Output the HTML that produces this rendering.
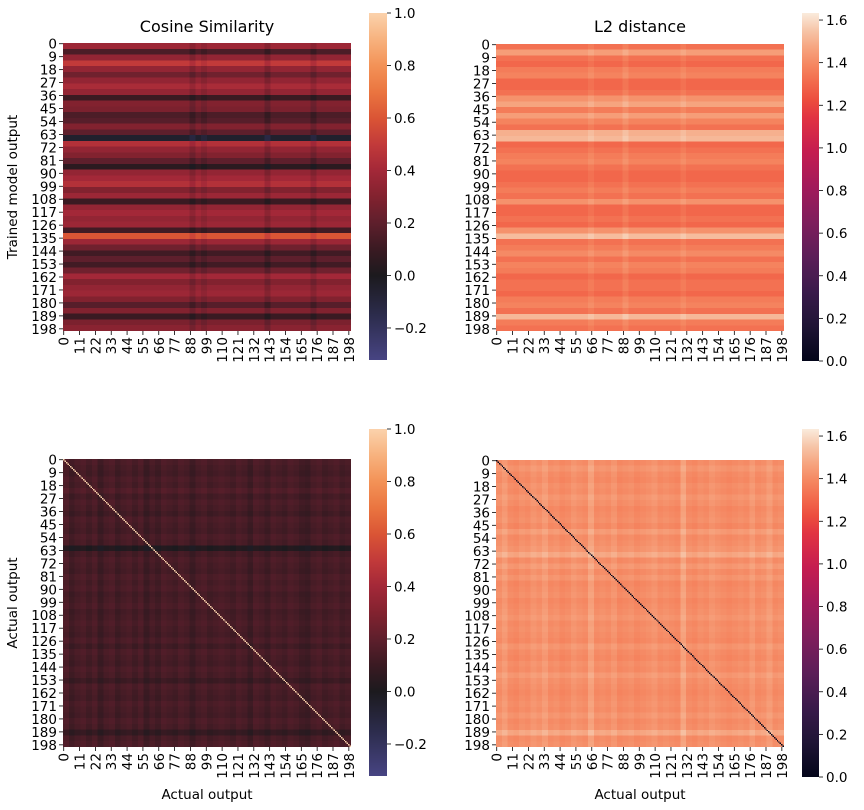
<!DOCTYPE html>
<html><head><meta charset="utf-8">
<style>
body{margin:0;background:#fff;width:864px;height:810px;overflow:hidden;font-family:"DejaVu Sans","Liberation Sans",sans-serif}
canvas{position:absolute;image-rendering:pixelated}
svg{position:absolute;left:0;top:0}
</style></head><body>
<canvas id="hm1" style="left:63px;top:43px;width:288px;height:288px" width="200" height="200"></canvas>
<canvas id="hm2" style="left:496px;top:44px;width:288px;height:287px" width="200" height="200"></canvas>
<canvas id="hm3" style="left:63px;top:459px;width:288px;height:288px" width="200" height="200"></canvas>
<canvas id="hm4" style="left:496px;top:460px;width:288px;height:287px" width="200" height="200"></canvas>
<canvas id="cb1" style="left:369px;top:13px;width:18px;height:347px" width="1" height="347"></canvas>
<canvas id="cb2" style="left:802px;top:13px;width:17px;height:348px" width="1" height="348"></canvas>
<canvas id="cb3" style="left:369px;top:429px;width:18px;height:347px" width="1" height="347"></canvas>
<canvas id="cb4" style="left:802px;top:429px;width:17px;height:348px" width="1" height="348"></canvas>
<svg id="svg" width="864" height="810"></svg>
<script>
// ---- data (4 rows/cols per entry, 50 entries) ----
const cosRowsTop=[0.38,0.15,0.35,0.5,0.35,0.25,0.35,0.42,0.35,0.1,0.3,0.28,0.15,0.18,0.3,0.2,-0.05,0.45,0.35,0.3,0.2,0.05,0.35,0.4,0.45,0.3,0.38,0.1,0.35,0.4,0.35,0.38,0.12,0.6,0.38,0.25,0.12,0.2,0.12,0.25,0.4,0.3,0.35,0.38,0.3,0.18,0.3,0.1,0.28,0.32];
const cosColsTop=[0,0,0,0,0,0,0,0,0,0,0,0,0,0,0,0,0,0,0,0,0,0,-0.06,0,-0.04,0,0,0,0,0,0,0,0,0,0,-0.07,0,0,0,0,0,0,0,-0.06,0,0,0,0,0,0];
const l2RowsTop=[1.33,1.45,1.33,1.3,1.36,1.38,1.3,1.3,1.33,1.42,1.47,1.36,1.45,1.38,1.33,1.5,1.52,1.3,1.33,1.36,1.38,1.33,1.3,1.3,1.33,1.36,1.33,1.42,1.3,1.3,1.33,1.3,1.42,1.53,1.33,1.36,1.4,1.33,1.38,1.36,1.3,1.33,1.33,1.3,1.36,1.38,1.33,1.52,1.36,1.33];
const l2ColsTop=[0,0,0,0,0,0,0,0,0,0,0,0,0,0,0,0,0.03,0,0,0,0,0,0.04,0,0,0,0,0,0,0,0,0,0.03,0,0,0,0,0,0,0,0,0,0,0,0,0,0,0,0,0];
const cosRowsBot=[0.15,0.12,0.1,0.15,0.12,0.18,0.1,0.15,0.12,0.08,0.15,0.12,0.1,0.15,0.12,-0.12,0.1,0.15,0.12,0.1,0.15,0.12,0.15,0.1,0.12,0.15,0.1,0.12,0.15,0.12,0.1,0.15,0.08,0.15,0.12,0.1,0.15,0.12,0.05,0.15,0.12,0.1,0.15,0.12,0.1,0.15,0.12,0.0,0.12,0.15];
const cosColsBot=[0.18,0.1,0.15,0.18,0.12,0.18,0.08,0.15,0.18,0.1,0.15,0.18,0.12,0.18,0.08,0.15,0.1,0.18,0.15,0.12,0.18,0.15,0.08,0.15,0.18,0.12,0.15,0.18,0.15,0.12,0.18,0.15,0.08,0.18,0.15,0.1,0.18,0.15,0.12,0.18,0.15,0.1,0.08,0.15,0.18,0.12,0.15,0.18,0.12,0.15];
const l2RowsBot=[1.4,1.45,1.4,1.38,1.42,1.4,1.45,1.42,1.38,1.4,1.42,1.38,1.48,1.4,1.42,1.45,1.55,1.4,1.47,1.4,1.45,1.38,1.4,1.42,1.38,1.4,1.42,1.45,1.4,1.42,1.4,1.38,1.45,1.4,1.38,1.42,1.4,1.47,1.42,1.4,1.38,1.4,1.42,1.4,1.45,1.4,1.42,1.55,1.4,1.42];
const l2ColsBot=[1.42,1.48,1.4,1.38,1.42,1.4,1.45,1.42,1.48,1.4,1.42,1.38,1.4,1.45,1.42,1.4,1.52,1.4,1.42,1.4,1.45,1.38,1.4,1.42,1.38,1.4,1.42,1.45,1.4,1.42,1.4,1.38,1.53,1.4,1.38,1.42,1.4,1.45,1.42,1.4,1.38,1.4,1.42,1.4,1.47,1.4,1.42,1.48,1.4,1.42];
const yTicks=[0,9,18,27,36,45,54,63,72,81,90,99,108,117,126,135,144,153,162,171,180,189,198];
const xTicks=[0,11,22,33,44,55,66,77,88,99,110,121,132,143,154,165,176,187,198];
const cosCbTicks=[-0.2,0.0,0.2,0.4,0.6,0.8,1.0];
const l2CbTicks=[0.0,0.2,0.4,0.6,0.8,1.0,1.2,1.4,1.6];

const ice=[[-0.32,'#474482'],[-0.15,'#2c2c4c'],[0,'#1c1a1e'],[0.1,'#3a1a22'],[0.2,'#5e1f2c'],[0.3,'#82222f'],[0.4,'#a32838'],[0.5,'#c23a3a'],[0.6,'#da5535'],[0.7,'#ea7540'],[0.8,'#f39257'],[0.9,'#f7b27e'],[1.0,'#fbd2ac']];
const rocketStops=[[0,'#03051a'],[0.1,'#1f1435'],[0.2,'#3a1a4b'],[0.3,'#5c1e58'],[0.4,'#7f1e5c'],[0.5,'#a11a5b'],[0.6,'#c41c50'],[0.7,'#e13342'],[0.75,'#ec4d3e'],[0.8,'#f2694c'],[0.85,'#f58660'],[0.9,'#f6a47f'],[0.95,'#f6c5a8'],[1.0,'#faebdd']];
const L2MAX=1.633;
const rocket=rocketStops.map(s=>[s[0]*L2MAX,s[1]]);
function hex(h){return [1,3,5].map(i=>parseInt(h.substr(i,2),16));}
function cmap(st,v){if(v<=st[0][0])return hex(st[0][1]);for(let i=1;i<st.length;i++){if(v<=st[i][0]){const a=st[i-1],b=st[i],t=(v-a[0])/(b[0]-a[0]);const A=hex(a[1]),B=hex(b[1]);return A.map((x,j)=>Math.round(x+(B[j]-x)*t));}}return hex(st[st.length-1][1]);}
function draw(id,st,f){const c=document.getElementById(id),x=c.getContext('2d'),im=x.createImageData(200,200);for(let r=0;r<200;r++)for(let k=0;k<200;k++){const col=cmap(st,f(r,k)),o=(r*200+k)*4;im.data[o]=col[0];im.data[o+1]=col[1];im.data[o+2]=col[2];im.data[o+3]=255;}x.putImageData(im,0,0);}
const g=i=>Math.min(49,Math.floor(i/4));
draw('hm1',ice,(r,k)=>cosRowsTop[g(r)]+cosColsTop[g(k)]);
draw('hm2',rocket,(r,k)=>l2RowsTop[g(r)]+l2ColsTop[g(k)]);
draw('hm3',ice,(r,k)=>r===k?1.0:(cosRowsBot[g(r)]+cosColsBot[g(k)])/2);
draw('hm4',rocket,(r,k)=>r===k?0.0:(l2RowsBot[g(r)]+l2ColsBot[g(k)])/2);
function cbar(id,st,vmin,vmax){const c=document.getElementById(id),x=c.getContext('2d'),h=c.height;for(let i=0;i<h;i++){const v=vmax-(vmax-vmin)*(i+0.5)/h;const col=cmap(st,v);x.fillStyle='rgb('+col+')';x.fillRect(0,i,1,1);}}
cbar('cb1',ice,-0.322,1.0);cbar('cb3',ice,-0.322,1.0);
cbar('cb2',rocket,0,L2MAX);cbar('cb4',rocket,0,L2MAX);

const S=document.getElementById('svg'),NS='http://www.w3.org/2000/svg';
function el(t,a,txt){const e=document.createElementNS(NS,t);for(const k in a)e.setAttribute(k,a[k]);if(txt!==undefined)e.textContent=txt;S.appendChild(e);return e;}
function axes(x0,y0,w,h,name){
  const cs=w/200,ch=h/200;
  yTicks.forEach(t=>{const y=y0+(t+0.5)*ch;
    el('line',{x1:x0-4,x2:x0,y1:y,y2:y,stroke:'#000','stroke-width':0.8});
    const e=el('text',{x:x0-6,y:y+5,'text-anchor':'end','font-size':'13.5px',fill:'#000'},String(t));
    
    });
  xTicks.forEach(t=>{const x=x0+(t+0.5)*cs;
    el('line',{x1:x,x2:x,y1:y0+h,y2:y0+h+4,stroke:'#000','stroke-width':0.8});
    const e=el('text',{x:0,y:0,'text-anchor':'end','font-size':'13.5px',fill:'#000',transform:'translate('+(x+5)+','+(y0+h+6)+') rotate(-90)'},String(t));
    
    });
}
function cbAxis(x,y0,h,ticks,vmin,vmax,name){
  ticks.forEach(t=>{const y=y0+(vmax-t)/(vmax-vmin)*h;
    el('line',{x1:x,x2:x+4,y1:y,y2:y,stroke:'#000','stroke-width':0.8});
    const e=el('text',{x:x+7,y:y+5,'font-size':'13.5px',fill:'#000'},t.toFixed(1).replace('-','\u2212'));
    
    });
}
axes(63,43,288,288,'cos-top');axes(496,44,288,287,'l2-top');axes(63,459,288,288,'cos-bottom');axes(496,460,288,287,'l2-bottom');
cbAxis(387,13,347,cosCbTicks,-0.322,1.0,'cos-top-colorbar');cbAxis(819,13,348,l2CbTicks,0,L2MAX,'l2-top-colorbar');
cbAxis(387,429,347,cosCbTicks,-0.322,1.0,'cos-bottom-colorbar');cbAxis(819,429,348,l2CbTicks,0,L2MAX,'l2-bottom-colorbar');
let e;
e=el('text',{x:207,y:32,'text-anchor':'middle','font-size':'16px'},'Cosine Similarity');
e=el('text',{x:640,y:32,'text-anchor':'middle','font-size':'16px'},'L2 distance');
e=el('text',{x:0,y:0,'text-anchor':'middle','font-size':'13.5px',transform:'translate(17,187) rotate(-90)'},'Trained model output');
e=el('text',{x:0,y:0,'text-anchor':'middle','font-size':'13.5px',transform:'translate(17,603) rotate(-90)'},'Actual output');
e=el('text',{x:207,y:799,'text-anchor':'middle','font-size':'13.5px'},'Actual output');
e=el('text',{x:640,y:799,'text-anchor':'middle','font-size':'13.5px'},'Actual output');
</script>
</body></html>
